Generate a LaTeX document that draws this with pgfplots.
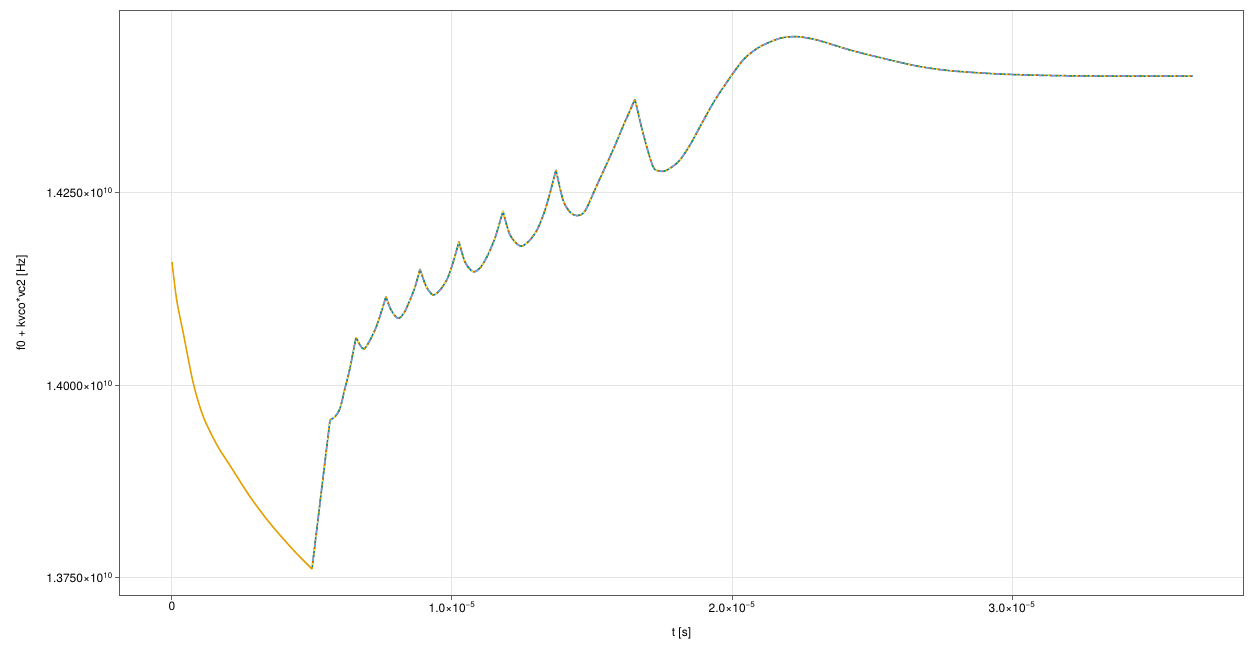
\documentclass[border=0pt]{standalone}
\usepackage{pgfplots}
\pgfplotsset{compat=1.18}
\usepackage{pgfplotstable}
\usepackage{fontspec}
\setmainfont{TeX Gyre Heros}

% Wong palette (Makie default)
\definecolor{wblue}{RGB}{0,114,178}
\definecolor{worange}{RGB}{230,159,0}
\definecolor{wgreen}{RGB}{0,158,115}
\definecolor{wpink}{RGB}{204,121,167}
\definecolor{wsky}{RGB}{86,180,233}
\definecolor{wverm}{RGB}{213,94,0}
\definecolor{wyellow}{RGB}{240,228,66}

% t in units of 1e-5 s, f in units of 1e10 Hz
\pgfplotstableread{
t f
0.0000 1.41604
0.0168 1.41110
0.0404 1.40678
0.0761 1.40029
0.1118 1.39595
0.1596 1.39234
0.2071 1.38961
0.2786 1.38556
0.3500 1.38210
0.4332 1.37864
0.5000 1.37617
}\charge

% nan rows split the curve at its cusps
\pgfplotstableread{
t f
0.5000 1.37617
0.5643 1.39552
nan nan
0.5643 1.39552
0.5821 1.39595
0.6000 1.39704
0.6179 1.39964
0.6357 1.40227
0.6571 1.40626
nan nan
0.6571 1.40626
0.6714 1.40526
0.6857 1.40474
0.7036 1.40565
0.7250 1.40721
0.7429 1.40903
0.7643 1.41153
nan nan
0.7643 1.41153
0.7821 1.40981
0.8071 1.40873
0.8286 1.40942
0.8500 1.41110
0.8679 1.41279
0.8857 1.41513
nan nan
0.8857 1.41513
0.9071 1.41292
0.9321 1.41175
0.9571 1.41240
0.9811 1.41370
1.0000 1.41552
1.0250 1.41868
nan nan
1.0250 1.41868
1.0464 1.41604
1.0750 1.41478
1.1000 1.41526
1.1250 1.41673
1.1536 1.41916
1.1821 1.42266
nan nan
1.1821 1.42266
1.2071 1.41955
1.2429 1.41812
1.2714 1.41864
1.3036 1.42019
1.3357 1.42318
1.3714 1.42799
nan nan
1.3714 1.42799
1.3964 1.42409
1.4214 1.42253
1.4464 1.42205
1.4750 1.42266
1.5179 1.42604
1.5750 1.43058
1.6143 1.43396
1.6536 1.43717
nan nan
1.6536 1.43717
1.6821 1.43279
1.7179 1.42842
1.7429 1.42786
1.7607 1.42786
1.7857 1.42838
1.8143 1.42929
1.8500 1.43123
1.8857 1.43361
1.9393 1.43708
2.0036 1.44054
2.0464 1.44253
2.1000 1.44400
2.1714 1.44509
2.2321 1.44530
2.3036 1.44487
2.4214 1.44357
2.5393 1.44249
2.6607 1.44149
2.7786 1.44088
2.9571 1.44045
3.1357 1.44026
3.3143 1.44019
3.6464 1.44019
}\lock

\begin{document}
\fontsize{12}{14}\selectfont
\begin{tikzpicture}
\useasboundingbox (-120pt,-53pt) rectangle (1140pt,595pt);
\begin{axis}[
    scale only axis,
    width=1123pt, height=584.5pt,
    xmin=-0.1857, xmax=3.825,
    ymin=1.37279, ymax=1.44870,
    xtick={0,1,2,3},
    xticklabels={0, 1.0×10\textsuperscript{−5}, 2.0×10\textsuperscript{−5}, 3.0×10\textsuperscript{−5}},
    ytick={1.375,1.400,1.425},
    yticklabels={1.3750×10\textsuperscript{10}, 1.4000×10\textsuperscript{10}, 1.4250×10\textsuperscript{10}},
    xtick pos=bottom, ytick pos=left,
    tick align=outside,
    major tick length=5pt,
    tick style={black!60, line width=1pt},
    axis line style={black!65, line width=1pt},
    grid=major,
    major grid style={black!10, line width=1pt},
    xlabel={t [s]},
    ylabel={f0 + kvco*vc2 [Hz]},
    every axis x label/.style={at={(axis description cs:0.5,0)}, yshift=-38pt, anchor=center},
    every axis y label/.style={at={(axis description cs:0,0.5)}, xshift=-98pt, rotate=90, anchor=center},
    xticklabel style={inner sep=2pt},
    yticklabel style={inner sep=2pt},
    unbounded coords=jump,
    /pgf/number format/assume math mode=true,
]
\addplot[worange, line width=1.5pt, smooth] table[x=t, y=f] {\charge};
\addplot[wblue, line width=1.5pt, smooth] table[x=t, y=f] {\lock};
\addplot[worange, line width=1.5pt, smooth, dash pattern=on 2pt off 12pt, dash phase=0pt] table[x=t, y=f] {\lock};
\addplot[wgreen, line width=1.5pt, smooth, dash pattern=on 2pt off 12pt, dash phase=2pt] table[x=t, y=f] {\lock};
\addplot[wpink, line width=1.5pt, smooth, dash pattern=on 2pt off 12pt, dash phase=4pt] table[x=t, y=f] {\lock};
\addplot[wsky, line width=1.5pt, smooth, dash pattern=on 2pt off 12pt, dash phase=6pt] table[x=t, y=f] {\lock};
\addplot[wverm, line width=1.5pt, smooth, dash pattern=on 2pt off 12pt, dash phase=8pt] table[x=t, y=f] {\lock};
\addplot[wyellow, line width=1.5pt, smooth, dash pattern=on 2pt off 12pt, dash phase=10pt] table[x=t, y=f] {\lock};
\end{axis}
\end{tikzpicture}
\end{document}
